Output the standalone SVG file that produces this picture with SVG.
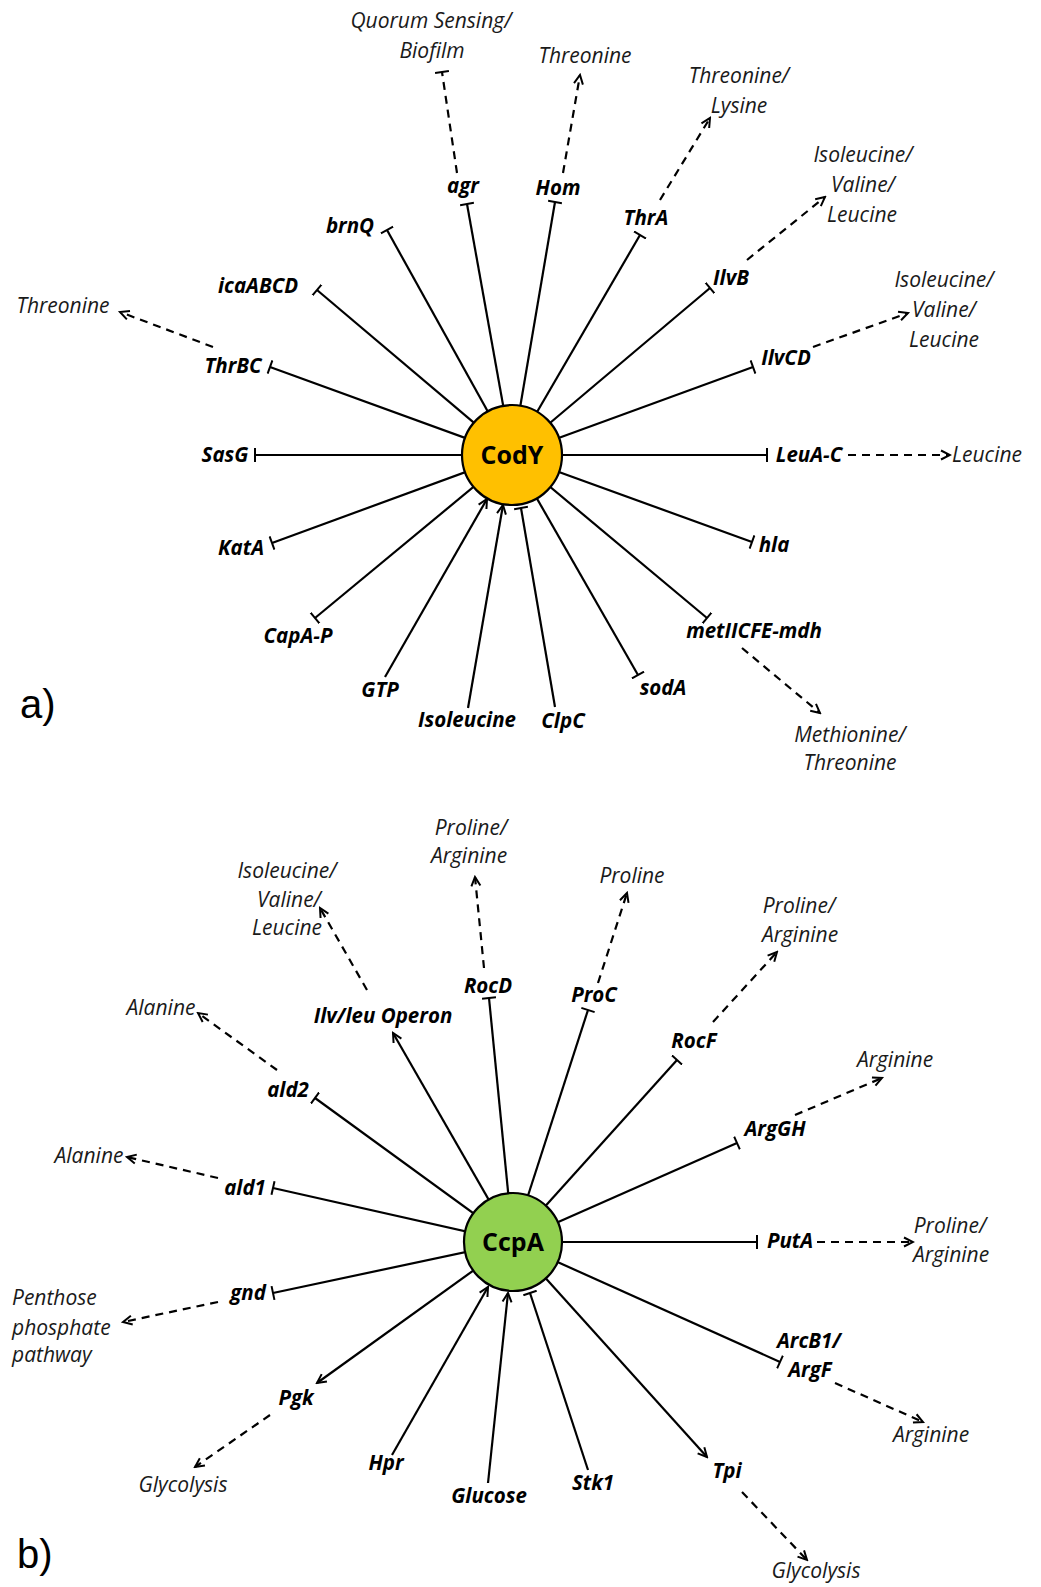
<svg xmlns="http://www.w3.org/2000/svg" width="1041" height="1587" viewBox="0 0 1041 1587">
<style>
.s{stroke:#000;stroke-width:2.2;fill:none}
.d{stroke:#000;stroke-width:2.2;fill:none;stroke-dasharray:8,6}
.g{font-family:"Open Sans","Liberation Sans",sans-serif;font-weight:bold;font-style:italic;font-size:20.5px;text-anchor:middle;fill:#000}
.p{font-family:"Open Sans","Liberation Sans",sans-serif;font-style:italic;font-size:21px;text-anchor:middle;fill:#1a1a1a}
.pl{font-family:"Open Sans","Liberation Sans",sans-serif;font-style:italic;font-size:21px;text-anchor:start;fill:#1a1a1a}
.hub{font-family:"Open Sans","Liberation Sans",sans-serif;font-weight:bold;font-size:25px;text-anchor:middle;fill:#000}
.pan{font-family:"Liberation Sans",Arial,sans-serif;font-size:40px;fill:#000}
</style>
<defs>
<marker id="arr" viewBox="0 0 12 12" refX="10" refY="6" markerWidth="12" markerHeight="12" markerUnits="userSpaceOnUse" orient="auto">
<path d="M1,1.5 L10,6 L1,10.5" fill="none" stroke="#000" stroke-width="2" stroke-dasharray="none"/>
</marker>
<marker id="tee" viewBox="0 0 4 14" refX="2" refY="7" markerWidth="4" markerHeight="14" markerUnits="userSpaceOnUse" orient="auto">
<path d="M2,0 L2,14" stroke="#000" stroke-width="2" stroke-dasharray="none"/>
</marker>
</defs>
<rect width="1041" height="1587" fill="#fff"/>
<g id="connectors">
<!-- CodY -->
<g class="s" marker-end="url(#tee)">
<line x1="512" y1="455" x2="467" y2="204"/>
<line x1="512" y1="455" x2="387" y2="230"/>
<line x1="512" y1="455" x2="317" y2="290"/>
<line x1="512" y1="455" x2="270" y2="367"/>
<line x1="512" y1="455" x2="255" y2="455"/>
<line x1="512" y1="455" x2="272" y2="543"/>
<line x1="512" y1="455" x2="315" y2="618"/>
<line x1="512" y1="455" x2="555" y2="202"/>
<line x1="512" y1="455" x2="640" y2="235"/>
<line x1="512" y1="455" x2="710" y2="288"/>
<line x1="512" y1="455" x2="753" y2="367"/>
<line x1="512" y1="455" x2="767" y2="455"/>
<line x1="512" y1="455" x2="752" y2="542"/>
<line x1="512" y1="455" x2="707" y2="618"/>
<line x1="512" y1="455" x2="638" y2="675"/>
<line x1="555" y1="707" x2="521" y2="508"/>
</g>
<g class="s" marker-end="url(#arr)">
<line x1="385" y1="677" x2="487" y2="499"/>
<line x1="468" y1="708" x2="503" y2="505"/>
</g>
<line class="d" x1="457" y1="173" x2="442" y2="72" marker-end="url(#tee)"/>
<g class="d" marker-end="url(#arr)">
<line x1="563" y1="173" x2="580" y2="75"/>
<line x1="660" y1="200" x2="710" y2="118"/>
<line x1="747" y1="260" x2="825" y2="197"/>
<line x1="813" y1="347" x2="908" y2="313"/>
<line x1="213" y1="347" x2="120" y2="312"/>
<line x1="848" y1="455" x2="950" y2="455"/>
<line x1="742" y1="648" x2="820" y2="713"/>
</g>
<!-- CcpA -->
<g class="s" marker-end="url(#tee)">
<line x1="513" y1="1242" x2="489" y2="998"/>
<line x1="513" y1="1242" x2="315" y2="1098"/>
<line x1="513" y1="1242" x2="273" y2="1188"/>
<line x1="513" y1="1242" x2="273" y2="1293"/>
<line x1="513" y1="1242" x2="588" y2="1010"/>
<line x1="513" y1="1242" x2="677" y2="1060"/>
<line x1="513" y1="1242" x2="737" y2="1143"/>
<line x1="513" y1="1242" x2="757" y2="1242"/>
<line x1="513" y1="1242" x2="780" y2="1362"/>
<line x1="588" y1="1470" x2="530" y2="1293"/>
</g>
<g class="s" marker-end="url(#arr)">
<line x1="513" y1="1242" x2="393" y2="1033"/>
<line x1="513" y1="1242" x2="317" y2="1383"/>
<line x1="513" y1="1242" x2="707" y2="1457"/>
<line x1="392" y1="1455" x2="488" y2="1287"/>
<line x1="488" y1="1483" x2="508" y2="1293"/>
</g>
<g class="d" marker-end="url(#arr)">
<line x1="484" y1="968" x2="475" y2="877"/>
<line x1="367" y1="990" x2="320" y2="908"/>
<line x1="277" y1="1070" x2="198" y2="1013"/>
<line x1="218" y1="1178" x2="127" y2="1157"/>
<line x1="218" y1="1302" x2="123" y2="1322"/>
<line x1="270" y1="1415" x2="195" y2="1467"/>
<line x1="598" y1="983" x2="627" y2="893"/>
<line x1="713" y1="1022" x2="777" y2="952"/>
<line x1="795" y1="1115" x2="882" y2="1078"/>
<line x1="817" y1="1242" x2="913" y2="1242"/>
<line x1="835" y1="1383" x2="923" y2="1422"/>
<line x1="742" y1="1492" x2="807" y2="1560"/>
</g>
</g>
<g id="CodY"><circle cx="512" cy="455" r="50" fill="#FFC000" stroke="#000" stroke-width="2.2"/><text class="hub" x="512" y="464">CodY</text></g>
<g id="CcpA"><circle cx="513" cy="1242" r="49" fill="#92D050" stroke="#000" stroke-width="2.2"/><text class="hub" x="513" y="1251">CcpA</text></g>
<g id="panel-a"><text class="pan" x="20" y="718">a)</text></g>
<g id="panel-b"><text class="pan" x="17" y="1568">b)</text></g>
<!-- CodY targets -->
<g id="agr"><text class="g" x="463" y="193">agr</text></g>
<g id="quorum"><text class="p" x="431" y="28">Quorum Sensing/</text><text class="p" x="432" y="58">Biofilm</text></g>
<g id="brnQ"><text class="g" x="350" y="233">brnQ</text></g>
<g id="icaABCD"><text class="g" x="258" y="293">icaABCD</text></g>
<g id="ThrBC"><text class="g" x="233" y="373">ThrBC</text></g>
<g id="thr1"><text class="p" x="63" y="313">Threonine</text></g>
<g id="Hom"><text class="g" x="558" y="195">Hom</text></g>
<g id="thr2"><text class="p" x="585" y="63">Threonine</text></g>
<g id="ThrA"><text class="g" x="646" y="225">ThrA</text></g>
<g id="thrlys"><text class="p" x="739" y="83">Threonine/</text><text class="p" x="739" y="113">Lysine</text></g>
<g id="IlvB"><text class="g" x="731" y="285">IlvB</text></g>
<g id="ivl1"><text class="p" x="863" y="162">Isoleucine/</text><text class="p" x="863" y="192">Valine/</text><text class="p" x="862" y="222">Leucine</text></g>
<g id="IlvCD"><text class="g" x="786" y="365">IlvCD</text></g>
<g id="ivl2"><text class="p" x="944" y="287">Isoleucine/</text><text class="p" x="944" y="317">Valine/</text><text class="p" x="944" y="347">Leucine</text></g>
<g id="SasG"><text class="g" x="225" y="462">SasG</text></g>
<g id="LeuA-C"><text class="g" x="809" y="462">LeuA-C</text></g>
<g id="leu"><text class="p" x="987" y="462">Leucine</text></g>
<g id="KatA"><text class="g" x="241" y="555">KatA</text></g>
<g id="hla"><text class="g" x="774" y="552">hla</text></g>
<g id="CapA-P"><text class="g" x="298" y="643">CapA-P</text></g>
<g id="metIICFE-mdh"><text class="g" x="754" y="638">metIICFE-mdh</text></g>
<g id="metthr"><text class="p" x="850" y="742">Methionine/</text><text class="p" x="850" y="770">Threonine</text></g>
<g id="GTP"><text class="g" x="380" y="697">GTP</text></g>
<g id="Isoleucine"><text class="g" x="467" y="727">Isoleucine</text></g>
<g id="ClpC"><text class="g" x="563" y="728">ClpC</text></g>
<g id="sodA"><text class="g" x="663" y="695">sodA</text></g>
<!-- CcpA targets -->
<g id="RocD"><text class="g" x="488" y="993">RocD</text></g>
<g id="proarg1"><text class="p" x="471" y="835">Proline/</text><text class="p" x="469" y="863">Arginine</text></g>
<g id="ilvleu"><text class="g" x="383" y="1023">Ilv/leu Operon</text></g>
<g id="ivl3"><text class="p" x="287" y="878">Isoleucine/</text><text class="p" x="289" y="907">Valine/</text><text class="p" x="287" y="935">Leucine</text></g>
<g id="ald2"><text class="g" x="288" y="1097">ald2</text></g>
<g id="ala1"><text class="p" x="161" y="1015">Alanine</text></g>
<g id="ald1"><text class="g" x="245" y="1195">ald1</text></g>
<g id="ala2"><text class="p" x="89" y="1163">Alanine</text></g>
<g id="ProC"><text class="g" x="594" y="1002">ProC</text></g>
<g id="pro"><text class="p" x="632" y="883">Proline</text></g>
<g id="RocF"><text class="g" x="694" y="1048">RocF</text></g>
<g id="proarg2"><text class="p" x="799" y="913">Proline/</text><text class="p" x="800" y="942">Arginine</text></g>
<g id="ArgGH"><text class="g" x="775" y="1136">ArgGH</text></g>
<g id="arg1"><text class="p" x="895" y="1067">Arginine</text></g>
<g id="PutA"><text class="g" x="790" y="1248">PutA</text></g>
<g id="proarg3"><text class="p" x="950" y="1233">Proline/</text><text class="p" x="951" y="1262">Arginine</text></g>
<g id="gnd"><text class="g" x="248" y="1300">gnd</text></g>
<g id="ppp"><text class="pl" x="12" y="1305">Penthose</text><text class="pl" x="12" y="1335">phosphate</text><text class="pl" x="12" y="1362">pathway</text></g>
<g id="ArcB1-ArgF"><text class="g" x="809" y="1348">ArcB1/</text><text class="g" x="810" y="1377">ArgF</text></g>
<g id="arg2"><text class="p" x="931" y="1442">Arginine</text></g>
<g id="Pgk"><text class="g" x="296" y="1405">Pgk</text></g>
<g id="gly1"><text class="p" x="183" y="1492">Glycolysis</text></g>
<g id="Hpr"><text class="g" x="386" y="1470">Hpr</text></g>
<g id="Glucose"><text class="g" x="489" y="1503">Glucose</text></g>
<g id="Stk1"><text class="g" x="593" y="1490">Stk1</text></g>
<g id="Tpi"><text class="g" x="727" y="1478">Tpi</text></g>
<g id="gly2"><text class="p" x="816" y="1578">Glycolysis</text></g>
</svg>
